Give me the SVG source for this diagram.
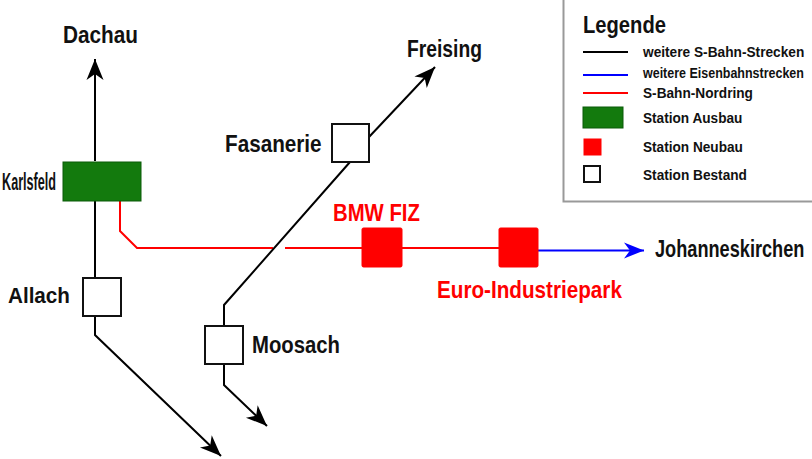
<svg xmlns="http://www.w3.org/2000/svg" width="812" height="459" viewBox="0 0 812 459">
<style>
text{font-family:"Liberation Sans",Arial,sans-serif;font-weight:bold;fill:#111}
.lbl{font-size:23px}
.red{fill:#f00}
.leg{font-size:14.5px}
.blk{fill:none;stroke:#000;stroke-width:2}
.rl{fill:none;stroke:#f00;stroke-width:2}
.bl{fill:none;stroke:#00f;stroke-width:2.2}
.st{fill:#fff;stroke:#111;stroke-width:2}
.nb{fill:#f00;stroke:#f00;stroke-width:1}
.ab{fill:#137a0d;stroke:#0b5a08;stroke-width:1}
</style>
<defs>
<marker id="ak" markerUnits="userSpaceOnUse" markerWidth="26" markerHeight="20" viewBox="-22 -10 24 20" refX="0" refY="0" orient="auto">
<path d="M0,0 L-21,-8.5 L-15,0 L-21,8.5 Z" fill="#000"/>
</marker>
<marker id="ab" markerUnits="userSpaceOnUse" markerWidth="26" markerHeight="20" viewBox="-22 -10 24 20" refX="0" refY="0" orient="auto">
<path d="M0,0 L-20,-8 L-14,0 L-20,8 Z" fill="#00f"/>
</marker>
</defs>
<rect width="812" height="459" fill="#fff"/>

<g id="connectors">
<path class="blk" d="M95,161 L95,59" marker-end="url(#ak)"/>
<path class="blk" d="M95,201 L95,278"/>
<path class="blk" d="M95,316 L95,335 L221,456" marker-end="url(#ak)"/>
<path class="rl" d="M120,201 L120,231 L137,248 L273,248"/>
<path class="rl" d="M285,248 L362,248"/>
<path class="rl" d="M402,248 L499,248"/>
<path class="bl" d="M538,250.5 L644,250.5" marker-end="url(#ab)"/>
<path class="blk" d="M224,326 L224,305 L350,162"/>
<path class="blk" d="M224,364 L224,385 L267,426" marker-end="url(#ak)"/>
<path class="blk" d="M369,137 L435,67" marker-end="url(#ak)"/>
</g>

<g id="dachau"><text class="lbl" transform="translate(63,43) scale(0.903,1)">Dachau</text></g>
<g id="freising"><text class="lbl" transform="translate(407,57) scale(0.838,1)">Freising</text></g>
<g id="karlsfeld">
<rect class="ab" x="63" y="162" width="78" height="39"/>
<text class="lbl" transform="translate(2,190) scale(0.55,1)">Karlsfeld</text>
</g>
<g id="allach">
<rect class="st" x="83" y="278" width="38" height="38"/>
<text class="lbl" transform="translate(8,303) scale(0.898,1)">Allach</text>
</g>
<g id="fasanerie">
<rect class="st" x="332" y="124" width="37" height="38"/>
<text class="lbl" transform="translate(225,152) scale(0.9,1)">Fasanerie</text>
</g>
<g id="moosach">
<rect class="st" x="205" y="326" width="38" height="38"/>
<text class="lbl" transform="translate(252,353) scale(0.883,1)">Moosach</text>
</g>
<g id="bmwfiz">
<rect class="nb" x="362" y="228" width="40" height="39" rx="1.5"/>
<text class="lbl red" transform="translate(333,221) scale(0.884,1)">BMW FIZ</text>
</g>
<g id="euroindustriepark">
<rect class="nb" x="499" y="228" width="39" height="39" rx="1.5"/>
<text class="lbl red" transform="translate(437,298) scale(0.899,1)">Euro-Industriepark</text>
</g>
<g id="johanneskirchen"><text class="lbl" transform="translate(655,257) scale(0.79,1)">Johanneskirchen</text></g>

<g id="legend">
<rect x="563.5" y="-5" width="260" height="206.5" fill="#fff" stroke="#999" stroke-width="2"/>
<text font-size="23" transform="translate(583,33) scale(0.877,1)">Legende</text>
<line x1="583" y1="52" x2="628" y2="52" stroke="#000" stroke-width="2"/>
<line x1="583" y1="75" x2="628" y2="75" stroke="#00f" stroke-width="2"/>
<line x1="583" y1="93" x2="628" y2="93" stroke="#f00" stroke-width="2"/>
<rect class="ab" x="583" y="107" width="40" height="21"/>
<rect class="nb" x="584" y="139" width="17" height="16"/>
<rect class="st" x="584" y="166" width="16" height="16"/>
<text class="leg" transform="translate(643,57) scale(0.945,1)">weitere S-Bahn-Strecken</text>
<text class="leg" transform="translate(643,78) scale(0.862,1)">weitere Eisenbahnstrecken</text>
<text class="leg" transform="translate(643,98) scale(0.942,1)">S-Bahn-Nordring</text>
<text class="leg" transform="translate(643,123) scale(0.94,1)">Station Ausbau</text>
<text class="leg" transform="translate(643,152) scale(0.94,1)">Station Neubau</text>
<text class="leg" transform="translate(643,180) scale(0.942,1)">Station Bestand</text>
</g>
</svg>
